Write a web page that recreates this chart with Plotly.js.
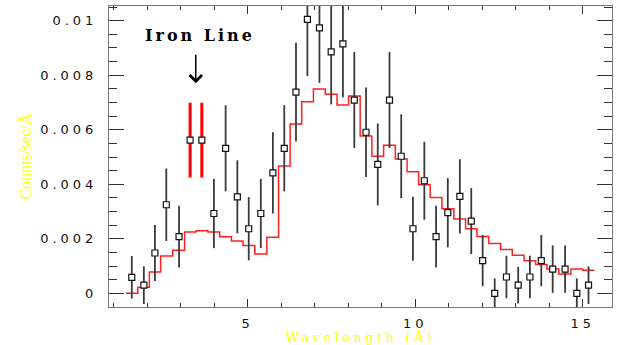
<!DOCTYPE html>
<html>
<head>
<meta charset="utf-8">
<script src="https://cdn.plot.ly/plotly-3.0.1.min.js"></script>
<style>
  html, body { margin: 0; padding: 0; background: #ffffff; }
  #chart { width: 624px; height: 345px; }
  .xtick text, .ytick text { letter-spacing: 4px; }
  .xtitle { letter-spacing: 3.5px; }
  .annotation-text { letter-spacing: 3px; }
</style>
</head>
<body>
<div id="chart"></div>
<script>
// Wavelength (Å) of each spectral bin
var wavelength = [1.54, 1.90, 2.23, 2.57, 2.95, 3.28, 3.63, 3.99, 4.34, 4.69,
                  5.03, 5.39, 5.75, 6.09, 6.44, 6.78, 7.14, 7.49, 7.84, 8.18,
                  8.53, 8.88, 9.23, 9.58, 9.93, 10.27, 10.62, 10.97, 11.33, 11.67,
                  12.01, 12.37, 12.72, 13.07, 13.42, 13.76, 14.10, 14.47, 14.82, 15.17];
// Observed counts/sec/Å
var counts = [0.00059, 0.00030, 0.00148, 0.00325, 0.00208, 0.00562, 0.00562, 0.00293, 0.00532, 0.00354,
              0.00237, 0.00293, 0.00442, 0.00532, 0.00738, 0.01005, 0.00974, 0.00886, 0.00915, 0.00709,
              0.00591, 0.00473, 0.00709, 0.00503, 0.00237, 0.00413, 0.00208, 0.00296, 0.00356, 0.00265,
              0.00120, 0.00000, 0.00060, 0.00030, 0.00060, 0.00120, 0.00089, 0.00089, 0.00000, 0.00030];
// 1-sigma errors
var errors = [0.00078, 0.00069, 0.00103, 0.00133, 0.00113, 0.00137, 0.00137, 0.00127, 0.00158, 0.00134,
              0.00116, 0.00127, 0.00149, 0.00158, 0.00181, 0.00208, 0.00202, 0.00193, 0.00196, 0.00176,
              0.00164, 0.00150, 0.00176, 0.00154, 0.00117, 0.00143, 0.00113, 0.00127, 0.00136, 0.00121,
              0.00094, 0.00055, 0.00078, 0.00067, 0.00078, 0.00094, 0.00087, 0.00087, 0.00055, 0.00069];
// Model (step histogram)
var model = [0.00000, 0.00022, 0.00078, 0.00137, 0.00158, 0.00225, 0.00230, 0.00225, 0.00208, 0.00192,
             0.00176, 0.00144, 0.00206, 0.00467, 0.00621, 0.00703, 0.00750, 0.00730, 0.00691, 0.00724,
             0.00577, 0.00503, 0.00543, 0.00493, 0.00446, 0.00398, 0.00352, 0.00310, 0.00273, 0.00237,
             0.00209, 0.00183, 0.00161, 0.00140, 0.00120, 0.00106, 0.00089, 0.00071, 0.00089, 0.00085];
// Bins highlighted as the iron line
var ironBins = [5, 6];

var xTickVals = [5, 10, 15];
var yTickVals = [0, 0.002, 0.004, 0.006, 0.008, 0.01];

// Build step edges for the model histogram from bin centres
var n = wavelength.length;
var edges = [wavelength[0] - (wavelength[1] - wavelength[0]) / 2];
for (var i = 1; i < n; i++) edges.push((wavelength[i - 1] + wavelength[i]) / 2);
edges.push(wavelength[n - 1] + (wavelength[n - 1] - wavelength[n - 2]) / 2);
var stepY = model.concat([model[n - 1]]);

var normX = [], normY = [], normE = [], ironX = [], ironY = [], ironE = [];
for (var j = 0; j < n; j++) {
  if (ironBins.indexOf(j) >= 0) { ironX.push(wavelength[j]); ironY.push(counts[j]); ironE.push(errors[j]); }
  else { normX.push(wavelength[j]); normY.push(counts[j]); normE.push(errors[j]); }
}

var markerStyle = { symbol: 'square', size: 6, color: '#ffffff', line: { color: '#111111', width: 1.2 } };

var traces = [
  { x: edges, y: stepY, type: 'scatter', mode: 'lines',
    line: { color: '#ff2020', width: 1.5, shape: 'hv' }, hoverinfo: 'skip' },
  { x: normX, y: normY, type: 'scatter', mode: 'markers',
    error_y: { type: 'data', array: normE, visible: true, color: '#3a3a3a', thickness: 1.8, width: 0 },
    marker: markerStyle },
  { x: ironX, y: ironY, type: 'scatter', mode: 'markers',
    error_y: { type: 'data', array: ironE, visible: true, color: '#ff0000', thickness: 3, width: 0 },
    marker: markerStyle }
];

var axisCommon = {
  showline: true, mirror: 'ticks', linecolor: '#777777', linewidth: 1,
  ticks: 'inside', tickwidth: 1, tickcolor: '#333333',
  showgrid: false, zeroline: false,
  tickfont: { family: 'DejaVu Sans', size: 13, color: '#111111' }
};

var layout = {
  width: 624, height: 345,
  margin: { l: 109, r: 12, t: 6, b: 38, pad: 0 },
  paper_bgcolor: '#ffffff', plot_bgcolor: '#ffffff',
  showlegend: false,
  xaxis: Object.assign({}, axisCommon, {
    range: [0.86, 15.87], tickmode: 'array', tickvals: xTickVals, ticklen: 8,
    minor: { ticks: 'inside', ticklen: 4, dtick: 1, tick0: 0, tickcolor: '#333333', tickwidth: 1 },
    ticklabelstandoff: 4,
    title: { text: 'Wavelength (Å)', standoff: 6,
             font: { family: 'DejaVu Serif', size: 13, color: '#ffff00' } }
  }),
  yaxis: Object.assign({}, axisCommon, {
    range: [-0.0005, 0.01054], tickmode: 'array', tickvals: yTickVals, ticklen: 15,
    minor: { ticks: 'inside', ticklen: 8, dtick: 0.0005, tick0: 0, tickcolor: '#333333', tickwidth: 1 },
    ticklabelstandoff: 8,
    title: { text: 'Counts/sec/Å', standoff: 4,
             font: { family: 'Liberation Serif', size: 16, color: '#ffff00' } }
  }),
  annotations: [
    { x: 3.58, y: 0.00944, xref: 'x', yref: 'y', text: '<b>Iron Line</b>', showarrow: false,
      font: { family: 'DejaVu Serif', size: 16, color: '#000000' } },
    { x: 3.45, y: 0.00771, xref: 'x', yref: 'y', text: '', showarrow: true,
      axref: 'x', ayref: 'y', ax: 3.45, ay: 0.00881,
      arrowhead: 4, arrowsize: 1.6, arrowwidth: 1.5, arrowcolor: '#000000' }
  ]
};

Plotly.newPlot('chart', traces, layout, { staticPlot: true, displayModeBar: false });
</script>
</body>
</html>
